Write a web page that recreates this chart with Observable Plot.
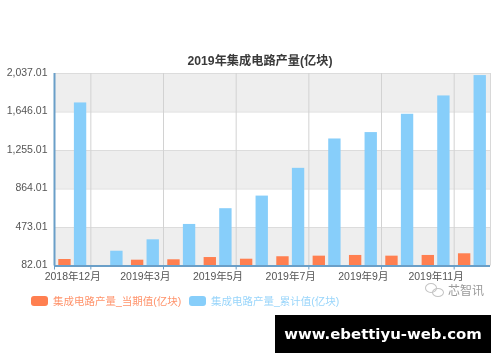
<!DOCTYPE html>
<html><head><meta charset="utf-8">
<script src="https://cdn.jsdelivr.net/npm/d3@7"></script>
<script src="https://cdn.jsdelivr.net/npm/@observablehq/plot@0.6"></script>
<style>
html,body{margin:0;padding:0;background:#fff;}
#page{position:relative;width:500px;height:362px;overflow:hidden;font-family:"Liberation Sans","Noto Sans CJK SC",sans-serif;filter:blur(0.4px);}
#page svg{display:block;}
.title{position:absolute;left:54px;width:412px;top:53px;text-align:center;font:bold 12.2px "Liberation Sans","Noto Sans CJK SC",sans-serif;color:#3a3a3a;line-height:16px;}
.legend{position:absolute;top:293px;font-size:10.5px;line-height:16px;white-space:nowrap;}
.legend i{position:absolute;left:0;top:3px;width:17px;height:10px;border-radius:3px;}
.legend span{position:absolute;left:22px;top:0;opacity:.85;}
.mark{position:absolute;left:448px;top:281px;font:12px "Noto Sans CJK SC",sans-serif;color:#999;line-height:18px;white-space:nowrap;}
.wechat{position:absolute;left:425px;top:283px;width:10px;height:8px;border:1px solid #c4c4c4;border-radius:50%;}
.wechat.b{left:432px;top:288px;width:10px;height:7px;}
.stamp{position:absolute;left:275px;top:315px;width:216px;height:38px;background:#000;color:#fff;font:bold 14.9px "DejaVu Sans",sans-serif;line-height:38px;text-align:center;}
</style></head>
<body><div id="page"></div>
<script>
const months = ["2018年12月","2019年2月","2019年3月","2019年4月","2019年5月","2019年6月","2019年7月","2019年8月","2019年9月","2019年10月","2019年11月","2019年12月"];
const currentValues = [148,null,141,145,168,151,176,182,189,182,189,206];
const cumulativeValues = [1738,232,348,504,664,792,1074,1372,1437,1623,1809,2016];
const labelMonths = ["2018年12月","2019年3月","2019年5月","2019年7月","2019年9月","2019年11月"];
const yTicks = [82.01,473.01,864.01,1255.01,1646.01,2037.01];
const currentName = "集成电路产量_当期值(亿块)";
const cumulativeName = "集成电路产量_累计值(亿块)";
const titleText = "2019年集成电路产量(亿块)";
const orange = "#ff7f50", blue = "#87cefa";

const table = months.map((m,i)=>({month:m,current:currentValues[i],cumulative:cumulativeValues[i]}));
const bands = [[yTicks[0],yTicks[1]],[yTicks[2],yTicks[3]],[yTicks[4],yTicks[5]]];
const halfBand = 18.17;
const yMin = yTicks[0], yMax = yTicks[5];

const chart = Plot.plot({
  width:500,height:362,
  marginLeft:54,marginRight:10,marginTop:73,marginBottom:96.5,
  style:{background:"transparent",fontFamily:'"Liberation Sans","Noto Sans CJK SC",sans-serif'},
  x:{domain:months,paddingInner:0.66,paddingOuter:0.33,round:false,label:null},
  y:{domain:[yMin,yMax],label:null},
  marks:[
    Plot.rectY(bands,{y1:d=>d[0],y2:d=>d[1],fill:"#eeeeee"}),
    Plot.ruleY(yTicks,{stroke:"#dcdcdc",strokeWidth:1}),
    Plot.ruleX(labelMonths,{x:d=>d,dx:halfBand,y1:yMin,y2:yMax,stroke:"#d2d2d2",strokeWidth:1}),
    Plot.ruleX(months.slice(-1),{x:d=>d,dx:halfBand,y1:yMin,y2:yMax,stroke:"#d8d8d8",strokeWidth:1}),
    Plot.barY(table.filter(d=>d.current!=null),{x:"month",y1:()=>yMin,y2:"current",fill:orange,dx:-7.7}),
    Plot.barY(table,{x:"month",y1:()=>yMin,y2:"cumulative",fill:blue,dx:7.9}),
    Plot.ruleY([yMin],{stroke:"#6a9fc8",strokeWidth:2}),
    Plot.ruleX(months.slice(0,1),{x:d=>d,dx:-halfBand,y1:yMin,y2:yMax,stroke:"#6a9fc8",strokeWidth:2}),
    Plot.ruleX(months.slice(0,1),{x:d=>d,dx:-halfBand,y1:yMin,y2:yMin,insetBottom:-4,stroke:"#6a9fc8",strokeWidth:1}),
    Plot.ruleX(labelMonths,{x:d=>d,dx:halfBand,y1:yMin,y2:yMin,insetBottom:-4,stroke:"#6a9fc8",strokeWidth:1}),
    Plot.axisX({ticks:labelMonths,tickSize:0,tickPadding:7,fontSize:10.5,color:"#555",label:null,tickFormat:d=>d}),
    Plot.axisY({ticks:yTicks,tickSize:0,tickPadding:7,dy:-1,fontSize:10.5,color:"#555",label:null,tickFormat:d3.format(",.2f")})
  ]
});
const page = document.getElementById("page");
page.appendChild(chart);
function add(cls,txt,style){const d=document.createElement("div");d.className=cls;if(txt)d.textContent=txt;if(style)Object.assign(d.style,style);page.appendChild(d);return d;}
add("title",titleText);
function legend(x,name,c){const d=add("legend",null,{left:x+"px",color:c});const i=document.createElement("i");i.style.background=c;const s=document.createElement("span");s.textContent=name;d.append(i,s);}
legend(31,currentName,orange);
legend(189,cumulativeName,blue);
add("wechat");add("wechat b");
add("mark","芯智讯");
add("stamp","www.ebettiyu-web.com");
</script></body></html>
